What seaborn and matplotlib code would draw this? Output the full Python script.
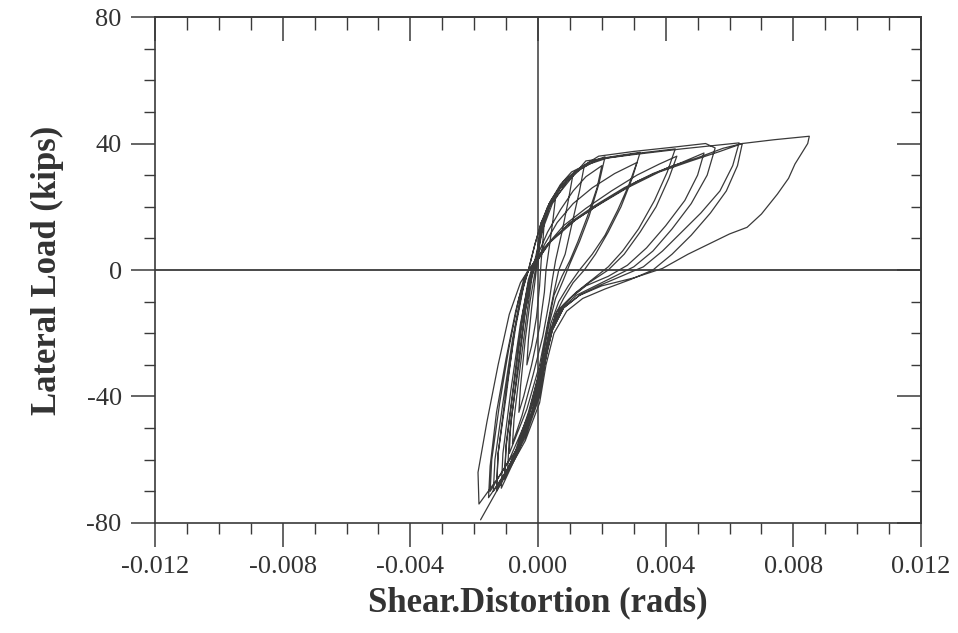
import numpy as np
import pandas as pd
import seaborn as sns
import matplotlib.pyplot as plt
from matplotlib.ticker import MultipleLocator, FormatStrFormatter

# shear distortion in milli-rads, lateral load in kips -- one pair of lists per cycle,
# read off the scanned hysteresis plot
c01_x = [0.0, 0.03, 0.1, 0.2, 0.16, 0.1, 0.05, -0.05, -0.2, -0.35, -0.3, -0.2, -0.1, -0.03]
c01_y = [0, 7, 13, 16, 10, 3, -5, -15, -24, -30, -22, -12, -4, 2]

c02_x = [0.0, 0.12, 0.3, 0.55, 0.47, 0.35, 0.25, 0.2, 0.05, -0.2, -0.45, -0.6, -0.55, -0.4, -0.25, -0.1]
c02_y = [8, 15, 20, 23, 16, 7, 0, -7, -18, -30, -40, -45, -37, -22, -10, -1]

c03_x = [0.0, 0.15, 0.4, 0.7, 0.95, 1.1, 0.95, 0.75, 0.55, 0.45, 0.35, 0.15, -0.15, -0.5, -0.8, -0.75, -0.55, -0.35, -0.2]
c03_y = [6, 14, 21, 26, 29, 30.5, 22, 12, 3, -3, -10, -21, -33, -46, -55, -47, -30, -14, -3]

c04_x = [-0.05, 0.1, 0.35, 0.7, 1.05, 1.45, 1.3, 1.05, 0.85, 0.65, 0.5, 0.3, 0.05, -0.35, -0.9, -0.85, -0.6, -0.4, -0.2]
c04_y = [4, 14, 21, 27, 31, 33, 25, 14, 5, 0, -7, -17, -30, -44, -58, -48, -30, -13, -2]

c05_x = [-0.05, 0.1, 0.4, 0.8, 1.2, 1.6, 2.1, 1.9, 1.6, 1.3, 1.0, 0.8, 0.55, 0.35, 0.1, -0.3, -0.7, -1.05, -1.0, -0.75, -0.5, -0.3, -0.15]
c05_y = [3, 14, 22, 28, 31.5, 34, 35.8, 27, 17, 9, 2, -3, -9, -17, -30, -45, -57, -66, -56, -36, -17, -5, 2]

c06_x = [0.0, 0.3, 0.7, 1.1, 1.5, 2.0, 1.85, 1.55, 1.25, 1.0, 0.75, 0.5, 0.3, 0.1, -0.25, -0.6, -0.95, -0.9, -0.65, -0.4, -0.2]
c06_y = [5, 12, 19, 25, 29.5, 33, 26, 17, 9, 3, -2, -8, -18, -30, -44, -55, -63, -53, -32, -13, -2]

c07_x = [-0.05, 0.15, 0.45, 0.9, 1.35, 1.8, 2.1, 2.6, 3.2, 2.95, 2.6, 2.2, 1.8, 1.45, 1.1, 0.8, 0.55, 0.35, 0.15, -0.2, -0.6, -1.15, -1.1, -0.85, -0.55, -0.3]
c07_y = [3, 13, 21, 28, 32, 34.5, 35.5, 36.3, 37.2, 29, 20, 12, 5, 0, -4, -9, -14, -22, -33, -46, -57, -69, -58, -38, -17, -4]

c08_x = [-0.1, 0.2, 0.6, 1.1, 1.7, 2.4, 3.1, 2.85, 2.5, 2.1, 1.7, 1.3, 0.95, 0.65, 0.4, 0.2, -0.1, -0.55, -1.05, -1.0, -0.75, -0.5, -0.3]
c08_y = [1, 8, 15, 21, 26, 30.5, 34, 27, 19, 11, 5, 0, -5, -10, -17, -27, -40, -55, -66, -55, -35, -15, -3]

c09_x = [-0.1, 0.1, 0.35, 0.7, 1.1, 1.6, 2.2, 3.2, 4.3, 4.05, 3.65, 3.15, 2.65, 2.2, 1.7, 1.2, 0.8, 0.5, 0.3, 0.1, -0.3, -0.8, -1.3, -1.25, -1.0, -0.7, -0.45, -0.3]
c09_y = [3, 12, 20, 26, 30.5, 33.5, 35.5, 37, 38.3, 31, 22, 13, 6, 1, -3, -7, -11, -16, -24, -35, -49, -60, -69, -58, -38, -18, -5, 0]

c10_x = [-0.2, 0.2, 0.8, 1.5, 2.3, 3.1, 3.8, 4.35, 4.1, 3.7, 3.2, 2.7, 2.2, 1.6, 1.1, 0.7, 0.45, 0.25, 0.05, -0.4, -0.9, -1.4, -1.35, -1.1, -0.8, -0.5, -0.3]
c10_y = [0, 7, 14, 19.5, 25, 30, 33.5, 36, 29, 20, 12, 5, 0, -4, -8, -12, -18, -27, -39, -52, -62, -70, -60, -42, -22, -7, 0]

c11_x = [-0.3, -0.1, 0.1, 0.35, 0.7, 1.1, 1.5, 1.9, 3.0, 4.2, 5.25, 5.55, 5.3, 4.8, 4.2, 3.6, 3.0, 2.4, 1.8, 1.2, 0.75, 0.45, 0.25, 0.05, -0.4, -1.0, -1.55, -1.5, -1.3, -1.0, -0.7, -0.45, -0.3]
c11_y = [0, 8, 15, 21, 26, 30.5, 33.5, 36, 37.5, 38.8, 40, 38.6, 30, 21, 13, 6, 1, -2, -5, -8, -12, -18, -27, -40, -53, -64, -72, -62, -45, -28, -13, -3, 0]

c12_x = [-0.2, 0.3, 1.0, 1.8, 2.7, 3.6, 4.5, 5.2, 5.0, 4.6, 4.0, 3.4, 2.8, 2.2, 1.5, 1.0, 0.6, 0.35, 0.15, -0.3, -0.9, -1.5, -1.45, -1.2, -0.9, -0.6, -0.35]
c12_y = [0, 8, 15, 20.5, 26, 30.5, 34, 37, 30, 22, 14, 7, 1.5, -2, -5, -9, -13, -20, -31, -46, -60, -70, -60, -42, -24, -9, -1]

c13_x = [-0.3, -0.1, 0.1, 0.4, 0.8, 1.2, 1.5, 3.0, 4.5, 6.3, 6.1, 5.7, 5.1, 4.5, 3.9, 3.3, 2.6, 1.9, 1.3, 0.8, 0.45, 0.2, 0.0, -0.5, -1.2, -1.85, -1.88, -1.6, -1.25, -0.9, -0.55, -0.3]
c13_y = [0, 8, 15, 21, 26, 31, 34.5, 36.5, 38.3, 40.2, 33, 25, 18, 12, 6, 1, -2, -5, -8, -12, -19, -29, -40, -54, -65, -74, -64, -48, -30, -14, -4, 0]

c14_x = [-0.1, 0.4, 1.2, 2.1, 3.1, 4.1, 5.0, 5.8, 6.4, 6.25, 5.9, 5.4, 4.8, 4.2, 3.6, 2.9, 2.1, 1.4, 0.9, 0.5, 0.25, 0.05, -0.4, -0.9, -1.3, -1.25, -1.0, -0.75, -0.5, -0.3]
c14_y = [2, 9, 16, 22, 28, 32.5, 35.5, 38.5, 40, 33, 25, 18, 11, 5, 0, -3, -6, -9, -13, -20, -30, -42, -54, -63, -70, -58, -40, -20, -6, 0]

c15_x = [-0.3, 0.2, 0.9, 1.8, 2.8, 3.8, 4.8, 5.7, 6.4, 7.4, 8.5, 8.45, 8.05, 7.85, 7.5, 7.0, 6.55, 6.0, 4.7, 3.9, 3.0, 2.0, 1.3, 0.8, 0.45, 0.2, -0.2, -0.8, -1.3, -1.8]
c15_y = [0, 7, 14, 20, 26, 31, 34.5, 37.5, 40, 41.2, 42.3, 40, 33.5, 29, 24, 17.7, 13.5, 11.4, 5, 0.5, -2.5, -5, -8, -12, -19, -30, -45, -60, -70, -79]

x_ticks = [-0.012, -0.008, -0.004, 0.000, 0.004, 0.008, 0.012]
y_ticks = [-80, -40, 0, 40, 80]

cycles = [(c01_x, c01_y), (c02_x, c02_y), (c03_x, c03_y), (c04_x, c04_y), (c05_x, c05_y),
          (c06_x, c06_y), (c07_x, c07_y), (c08_x, c08_y), (c09_x, c09_y), (c10_x, c10_y),
          (c11_x, c11_y), (c12_x, c12_y), (c13_x, c13_y), (c14_x, c14_y), (c15_x, c15_y)]

gamma = np.concatenate([np.array(cx) / 1000.0 for cx, cy in cycles])
load = np.concatenate([np.array(cy, dtype=float) for cx, cy in cycles])
df = pd.DataFrame({"gamma": gamma, "load": load, "step": np.arange(len(gamma))})

sns.set_style("white", {"xtick.bottom": True, "ytick.left": True})
plt.rcParams["font.family"] = ["Liberation Serif", "DejaVu Serif"]
plt.rcParams["axes.unicode_minus"] = False

ink = "#3a3a3a"
fig = plt.figure(figsize=(9.58, 6.33), dpi=100)
fig.subplots_adjust(left=0.1618, right=0.9614, bottom=0.1738, top=0.9731)
ax = fig.add_subplot(111)

ax.axhline(0, color=ink, lw=1.3, zorder=1)
ax.axvline(0, color=ink, lw=1.1, zorder=1)
sns.lineplot(data=df, x="gamma", y="load", sort=False, estimator=None,
             color=ink, linewidth=0.9, ax=ax, zorder=2)

ax.set_xlim(-0.012, 0.012)
ax.set_ylim(-80, 80)
ax.set_xticks(x_ticks)
ax.set_yticks(y_ticks)
ax.xaxis.set_minor_locator(MultipleLocator(0.001))
ax.yaxis.set_minor_locator(MultipleLocator(10))
ax.xaxis.set_major_formatter(FormatStrFormatter("%.3f"))

for side in ["top", "right", "bottom", "left"]:
    ax.spines[side].set_color(ink)
    ax.spines[side].set_linewidth(1.2)

ax.tick_params(which="both", bottom=True, left=True, top=False, right=False)
ax.tick_params(which="major", direction="out", length=17, width=1.1, color=ink,
               labelsize=19, labelcolor="#333333", pad=7)
ax.tick_params(which="minor", direction="out", length=8, width=1.0, color=ink)

# inward ticks on the top and right edges
top = ax.secondary_xaxis("top")
top.set_xticks(x_ticks)
top.xaxis.set_minor_locator(MultipleLocator(0.001))
top.tick_params(which="major", direction="in", length=17, width=1.1, color=ink, labeltop=False)
top.tick_params(which="minor", direction="in", length=9, width=1.0, color=ink)
top.spines["top"].set_color(ink)
top.spines["top"].set_linewidth(1.2)

right = ax.secondary_yaxis("right")
right.set_yticks(y_ticks)
right.yaxis.set_minor_locator(MultipleLocator(10))
right.tick_params(which="major", direction="in", length=17, width=1.1, color=ink, labelright=False)
right.tick_params(which="minor", direction="in", length=7, width=1.0, color=ink)
right.spines["right"].set_color(ink)
right.spines["right"].set_linewidth(1.2)

ax.set_xlabel("Shear.Distortion (rads)", fontsize=25, fontweight="bold", color="#333333", labelpad=6)
ax.set_ylabel("Lateral Load (kips)", fontsize=25, fontweight="bold", color="#333333", labelpad=16)

plt.savefig("out.png", dpi=100)
